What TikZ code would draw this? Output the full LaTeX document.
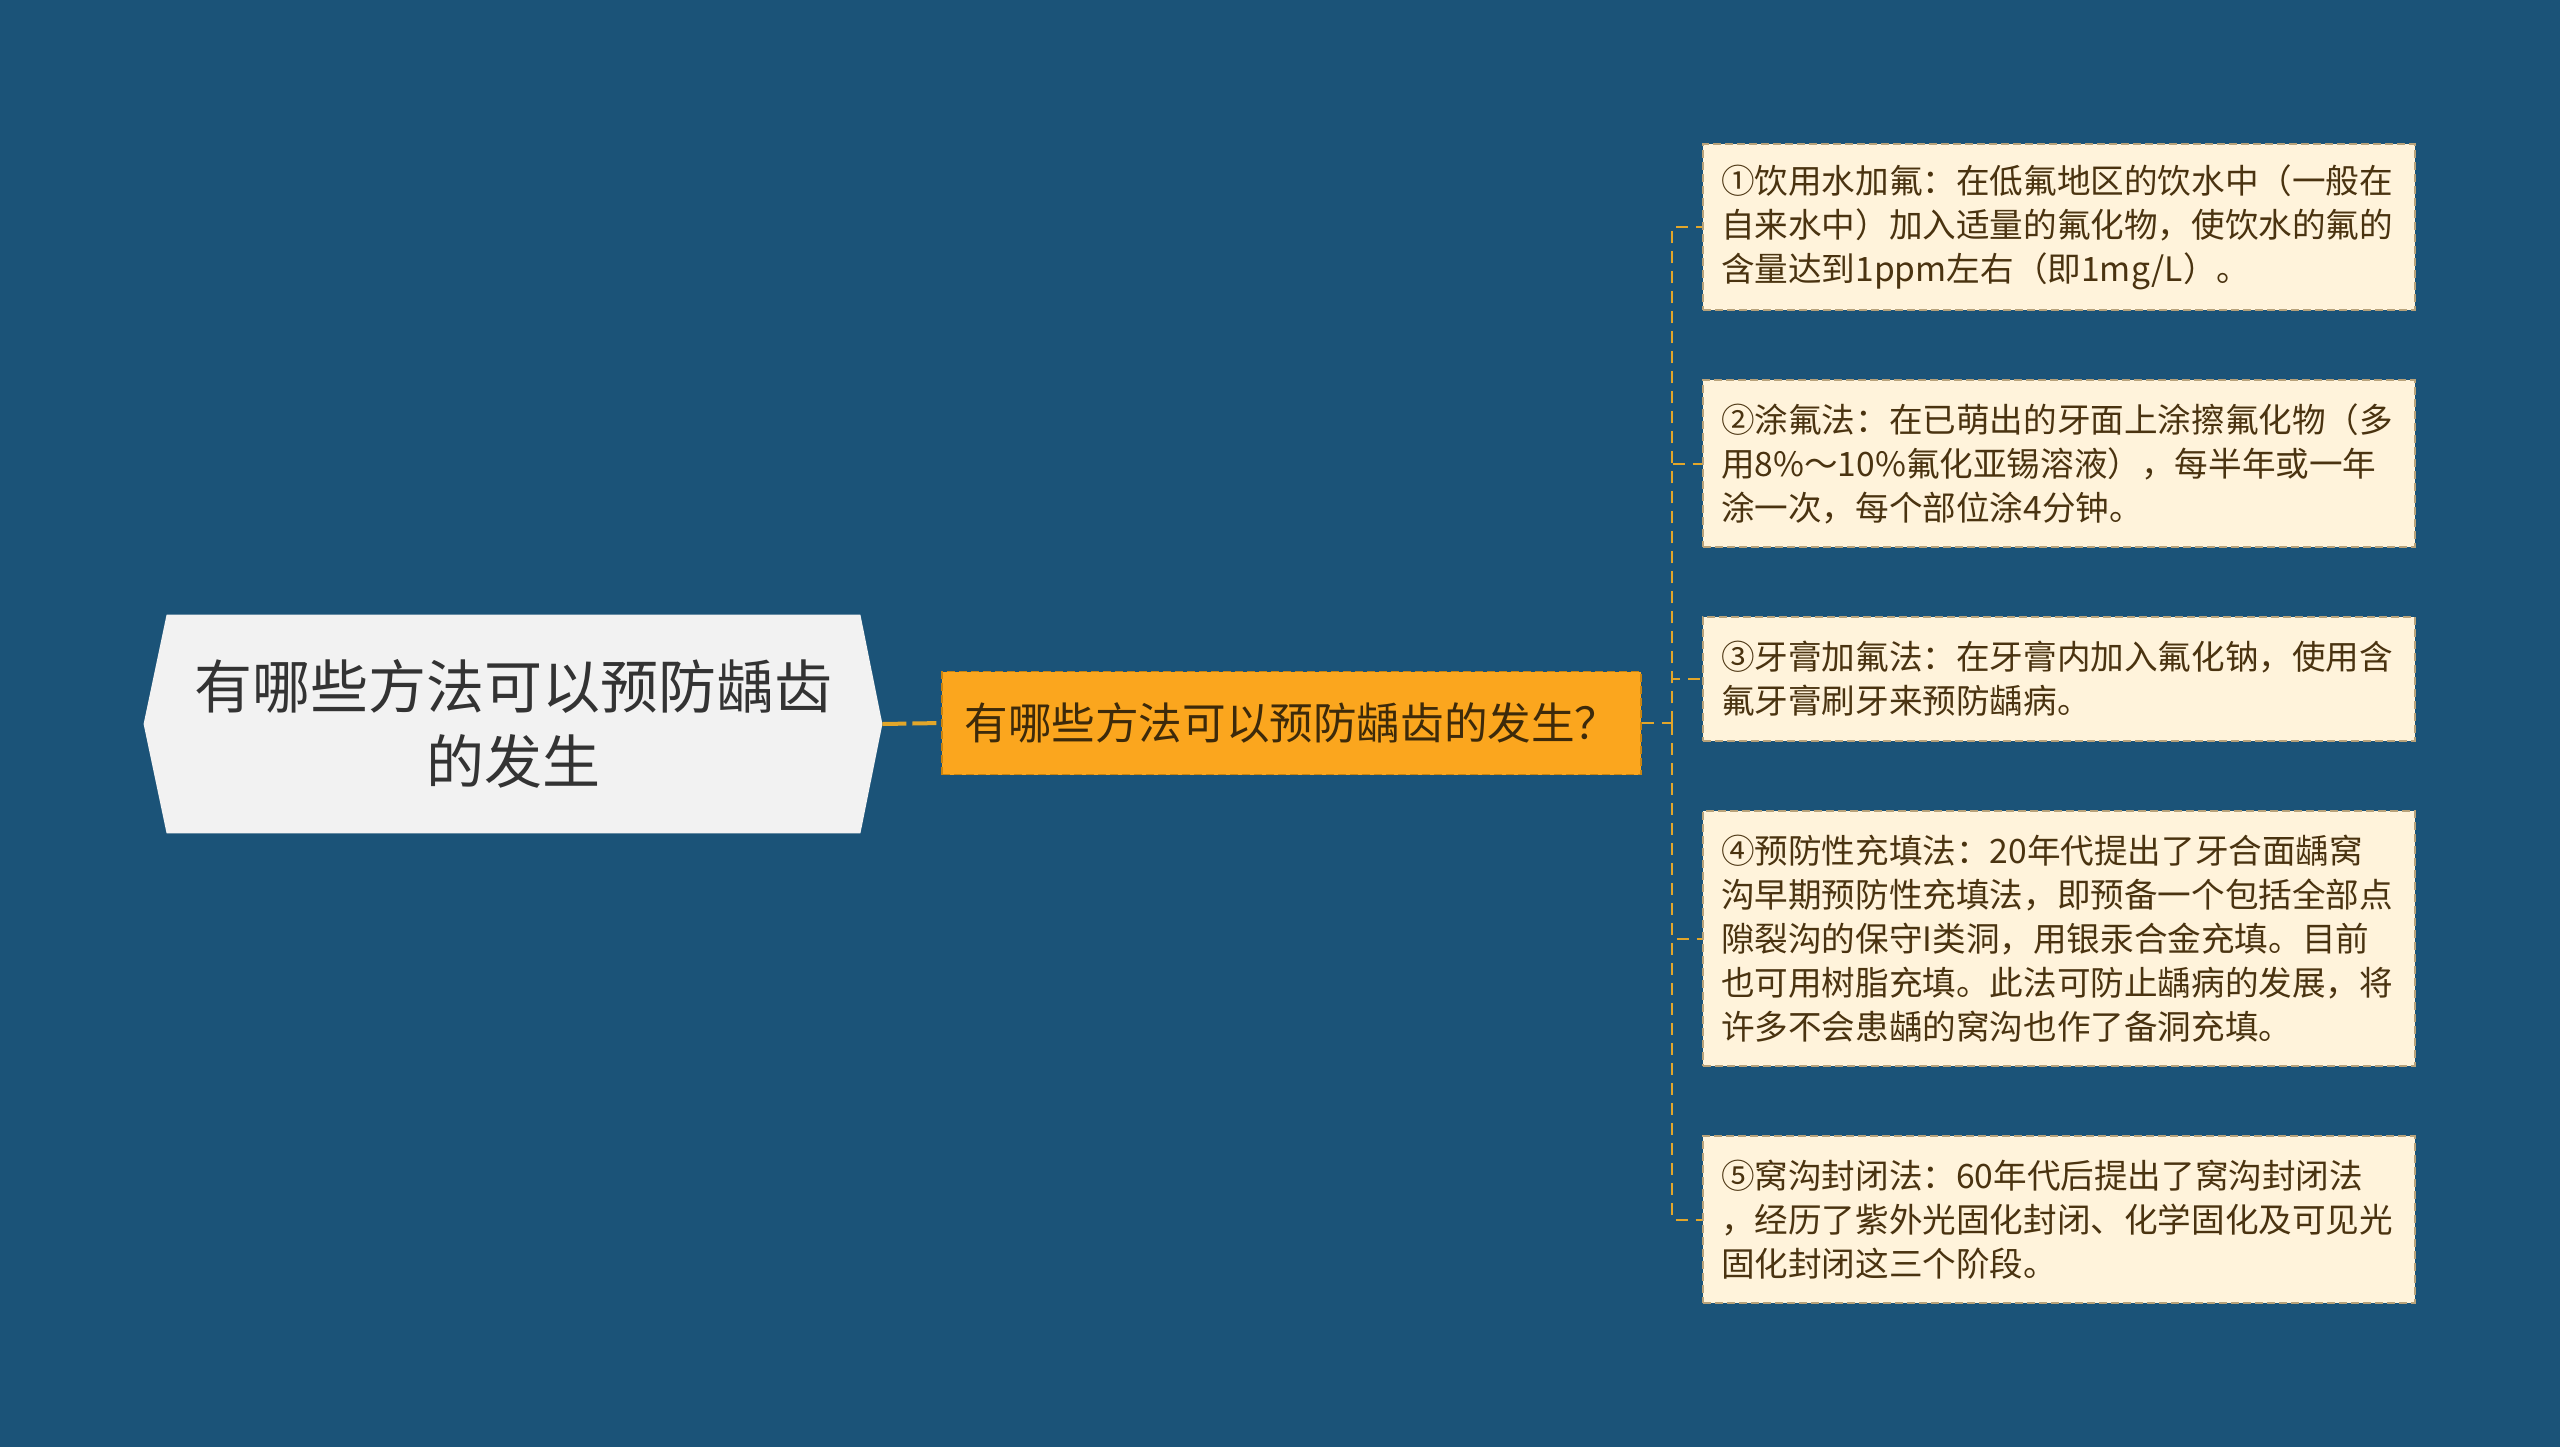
\documentclass[tikz,border=0pt]{standalone}
\usepackage{fontspec}
\setmainfont{Noto Sans CJK SC}
\usetikzlibrary{calc}
\definecolor{bgblue}{HTML}{1B5378}
\definecolor{rootfill}{HTML}{F2F2F2}
\definecolor{roottext}{HTML}{333333}
\definecolor{midfill}{HTML}{FBA61E}
\definecolor{midborder}{HTML}{C98410}
\definecolor{midtext}{HTML}{3D2A0A}
\definecolor{leaffill}{HTML}{FFF3DB}
\definecolor{leafborder}{HTML}{B8A27A}
\definecolor{leaftext}{HTML}{4A3310}
\definecolor{linkgold}{HTML}{E2A62A}
\begin{document}
\begin{tikzpicture}[x=0.5pt,y=-0.5pt,
  leafbox/.style={draw=leafborder, fill=leaffill, line width=0.8pt, dash pattern=on 4pt off 2pt,
    minimum width=356pt, text width=338pt, align=left, inner sep=0pt,
    font=\fontsize{16.8pt}{22pt}\selectfont, text=leaftext},
  midbox/.style={draw=midborder, fill=midfill, line width=0.9pt, dash pattern=on 4pt off 2pt,
    minimum width=349.5pt, minimum height=51.5pt, inner sep=0pt,
    font=\fontsize{21.8pt}{26pt}\selectfont, text=midtext},
  link/.style={draw=linkgold, line width=1pt, dash pattern=on 6pt off 4pt},
  rootlink/.style={draw=linkgold, line width=2pt, dash pattern=on 12pt off 3pt}
]
\useasboundingbox[fill=bgblue] (0,0) rectangle (2560,1447);

% root hexagon
\node[minimum width=369pt, minimum height=109pt, inner sep=0pt, align=center,
  font=\fontsize{29pt}{37.5pt}\selectfont, text=roottext] (root) at (513,724) {};
\fill[rootfill] (root.west) -- ($(root.north west)+(23,0)$) -- ($(root.north east)+(-22,0)$)
  -- (root.east) -- ($(root.south east)+(-22,0)$) -- ($(root.south west)+(23,0)$) -- cycle;
\node[align=center, font=\fontsize{29pt}{37.5pt}\selectfont, text=roottext, inner sep=0pt]
  (roottxt) at (root.center) {有哪些方法可以预防龋齿\\的发生};

% middle node
\node[midbox] (mid) at (1291.5,723) {有哪些方法可以预防龋齿的发生？};

% leaves
\node[leafbox, minimum height=83pt] (l1) at (2059,227) {①饮用水加氟：在低氟地区的饮水中（一般在\\自来水中）加入适量的氟化物，使饮水的氟的\\含量达到1ppm左右（即1mg/L）。};
\node[leafbox, minimum height=83.5pt] (l2) at (2059,463.5) {②涂氟法：在已萌出的牙面上涂擦氟化物（多\\用8\%～10\%氟化亚锡溶液），每半年或一年\\涂一次，每个部位涂4分钟。};
\node[leafbox, minimum height=62pt] (l3) at (2059,679) {③牙膏加氟法：在牙膏内加入氟化钠，使用含\\氟牙膏刷牙来预防龋病。};
\node[leafbox, minimum height=127.5pt] (l4) at (2059,938.5) {④预防性充填法：20年代提出了牙合面龋窝\\沟早期预防性充填法，即预备一个包括全部点\\隙裂沟的保守I类洞，用银汞合金充填。目前\\也可用树脂充填。此法可防止龋病的发展，将\\许多不会患龋的窝沟也作了备洞充填。};
\node[leafbox, minimum height=83.5pt] (l5) at (2059,1219.5) {⑤窝沟封闭法：60年代后提出了窝沟封闭法\\，经历了紫外光固化封闭、化学固化及可见光\\固化封闭这三个阶段。};

% connectors
\draw[rootlink] (root.east) -- (mid.west);
\coordinate (bus) at (1672,723);
\draw[link] (mid.east) -- (bus);
\foreach \n in {l1,l2,l3,l4,l5}{
  \draw[link] (bus) |- (\n.west);
}
\end{tikzpicture}
\end{document}
